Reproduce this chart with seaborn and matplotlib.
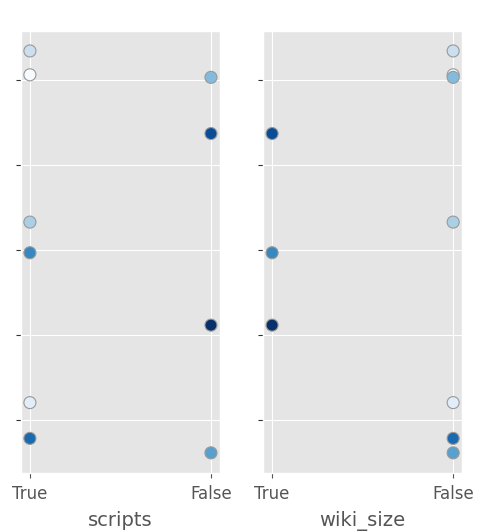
import matplotlib
matplotlib.use("Agg")
import matplotlib.pyplot as plt
import numpy as np
import pandas as pd
import seaborn as sns

# values (y has no visible labels)
y_vals = [4.34, 4.06, 4.03, 3.37, 2.33, 1.97, 1.12, 0.21, -0.21, -0.38]
scripts = ["True", "True", "False", "False", "True", "True", "False", "True", "True", "False"]
wiki_size = ["False", "False", "False", "True", "False", "True", "True", "False", "False", "False"]
hue_vals = [2, 0, 4, 8, 3, 6, 9, 1, 7, 5]
cat_order = ["True", "False"]

df = pd.DataFrame({
    "y": y_vals,
    "scripts": pd.Categorical(scripts, categories=cat_order),
    "wiki_size": pd.Categorical(wiki_size, categories=cat_order),
    "hue": hue_vals,
})

plt.style.use("ggplot")
fig, axes = plt.subplots(1, 2, figsize=(4.85, 5.32), dpi=100, sharey=True)
fig.subplots_adjust(left=0.043, right=0.953, top=0.942, bottom=0.111, wspace=0.216)

for ax, col in zip(axes, ["scripts", "wiki_size"]):
    sns.scatterplot(data=df, x=col, y="y", hue="hue", palette="Blues", ax=ax,
                    s=75, edgecolor="#999999", linewidth=0.8, legend=False)
    ax.set_ylabel("")
    ax.set_xlabel(col, fontsize=14, labelpad=6)
    ax.tick_params(axis="x", labelsize=12, pad=5)
    ax.tick_params(axis="y", color="#333333")
    ax.set_yticks([0, 1, 2, 3, 4])
    ax.set_yticklabels([])

fig.savefig("out.png", dpi=100)
